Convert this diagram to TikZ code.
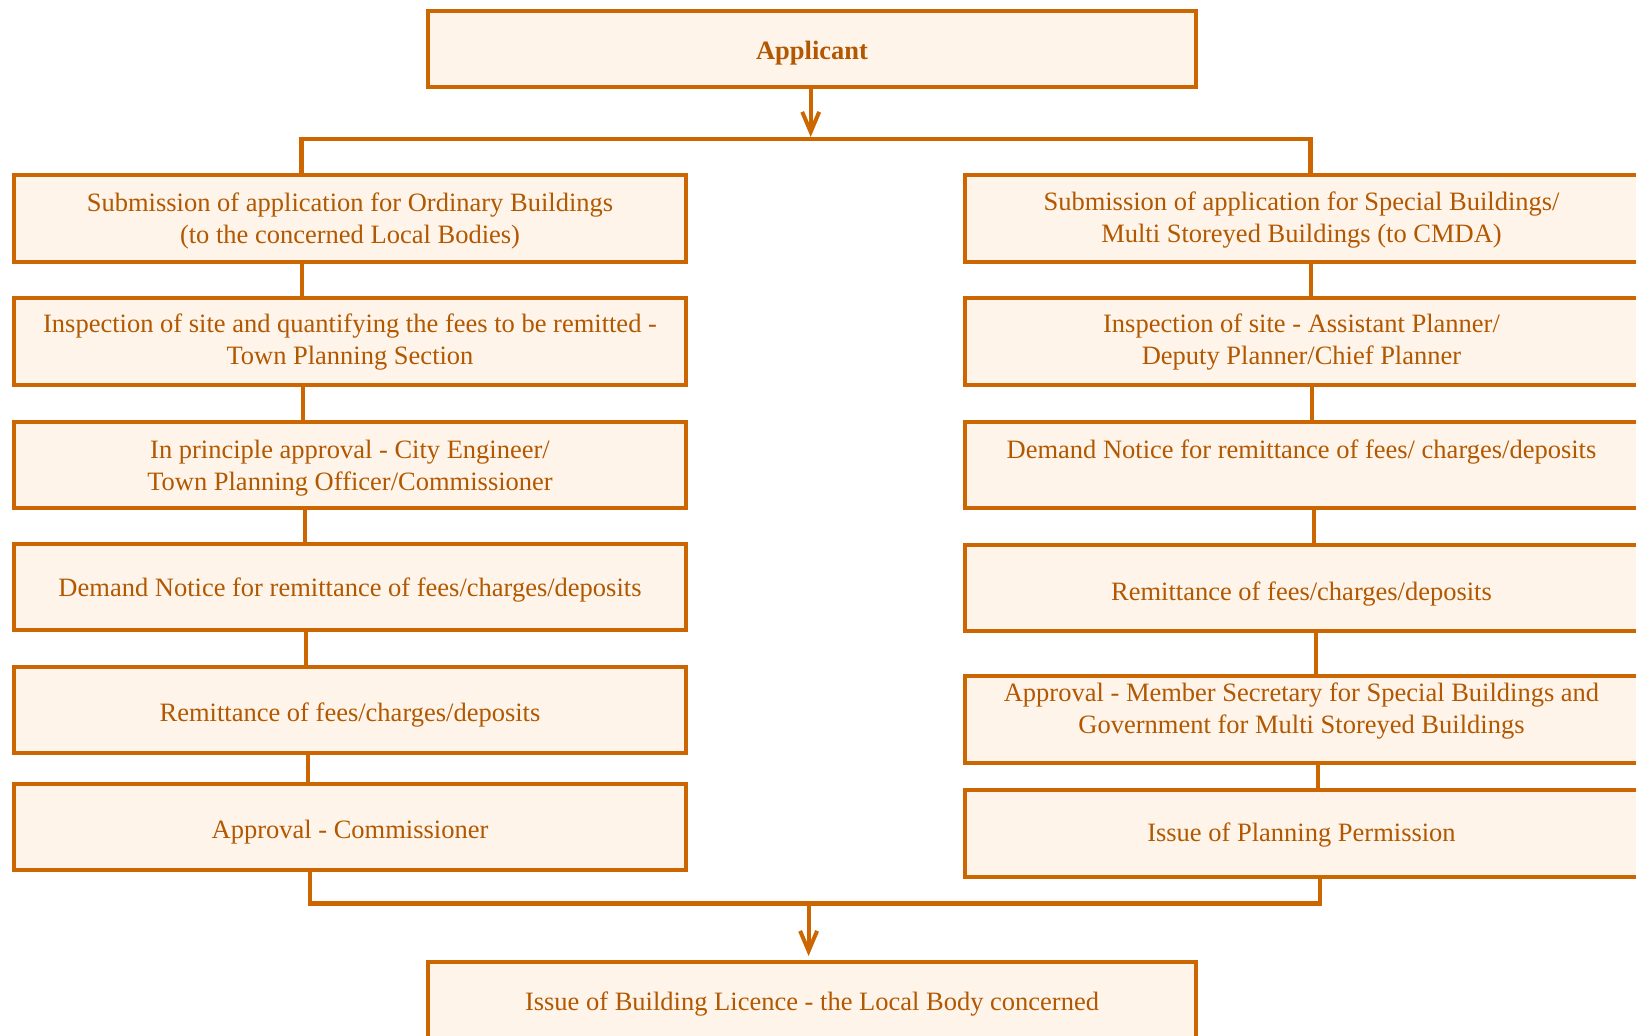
\documentclass[tikz,border=0pt]{standalone}
\usepackage{fontspec}
\setmainfont{Liberation Serif}
\usetikzlibrary{arrows.meta}
\definecolor{linec}{RGB}{204,102,0}
\definecolor{fillc}{RGB}{255,244,234}
\definecolor{txtc}{RGB}{178,88,0}
\begin{document}
\begin{tikzpicture}[x=1pt,y=-1pt,
  box/.style={draw=linec, fill=fillc, line width=4pt, inner sep=0pt},
  lbox/.style={box, minimum width=672pt, minimum height=86.6pt},
  rbox/.style={box, minimum width=673pt, minimum height=86.6pt},
  txt/.style={text=txtc, align=center, inner sep=0pt, font=\fontsize{26.5}{32}\selectfont},
  conn/.style={draw=linec, line width=4pt, line join=miter},
  arr/.style={draw=linec, line width=4pt, -{Straight Barb[length=20pt,width=17pt]}}]
\useasboundingbox (0,0) rectangle (1636,1036);

% top
\node[box, minimum width=768pt, minimum height=76pt] (app) at (812,48.5) {};
\node[txt, font=\fontsize{26.5}{32}\selectfont\bfseries] (appt) at ([yshift=-5pt]app.center) {Applicant};

% left column
\node[lbox] (l1) at (350,218.6) {};
\node[txt] (l1t) at ([yshift=-2.4pt]l1.center) {Submission of application for Ordinary Buildings\\(to the concerned Local Bodies)};
\node[lbox] (l2) at (350,341.7) {};
\node[txt] (l2t) at ([yshift=-0.8pt]l2.center) {Inspection of site and quantifying the fees to be remitted -\\Town Planning Section};
\node[lbox] (l3) at (350,464.8) {};
\node[txt] (l3t) at ([yshift=-3.4pt]l3.center) {In principle approval - City Engineer/\\Town Planning Officer/Commissioner};
\node[lbox] (l4) at (350,586.9) {};
\node[txt] (l4t) at ([yshift=-3.1pt]l4.center) {Demand Notice for remittance of fees/charges/deposits};
\node[lbox] (l5) at (350,710) {};
\node[txt] (l5t) at ([yshift=-5pt]l5.center) {Remittance of fees/charges/deposits};
\node[lbox] (l6) at (350,826.9) {};
\node[txt] (l6t) at ([yshift=-5pt]l6.center) {Approval - Commissioner};

% right column
\node[rbox] (r1) at (1301.5,218.6) {};
\node[txt] (r1t) at ([yshift=-1.5pt]r1.center) {Submission of application for Special Buildings/\\Multi Storeyed Buildings (to CMDA)};
\node[rbox] (r2) at (1301.5,341.7) {};
\node[txt] (r2t) at ([yshift=-0.6pt]r2.center) {Inspection of site - Assistant Planner/\\Deputy Planner/Chief Planner};
\node[rbox] (r3) at (1301.5,464.8) {};
\node[txt] (r3t) at ([yshift=13pt]r3.center) {Demand Notice for remittance of fees/ charges/deposits};
\node[rbox] (r4) at (1301.5,588) {};
\node[txt] (r4t) at ([yshift=-5.6pt]r4.center) {Remittance of fees/charges/deposits};
\node[rbox] (r5) at (1301.5,719.4) {};
\node[txt] (r5t) at ([yshift=8pt]r5.center) {Approval - Member Secretary for Special Buildings and\\Government for Multi Storeyed Buildings};
\node[rbox] (r6) at (1301.5,833.2) {};
\node[txt] (r6t) at ([yshift=-2pt]r6.center) {Issue of Planning Permission};

% bottom
\node[box, minimum width=768pt, minimum height=86.6pt] (fin) at (812,1005.3) {};
\node[txt] (fint) at ([yshift=1.6pt]fin.center) {Issue of Building Licence - the Local Body concerned};

% top connectors
\coordinate (tl) at (301.5,138.8);
\coordinate (tr) at (1310.5,138.8);
\coordinate (tj) at (810.7,137);
\draw[arr] ([xshift=-1.3pt]app.south) -- (tj);
\draw[conn, line width=4.5pt] ([xshift=-48.5pt]l1.north) -- (tl) -- (tr) -- ([xshift=9pt]r1.north);

% left chain
\draw[conn] ([xshift=-48.5pt]l1.south) -- ([xshift=-48.5pt]l2.north);
\draw[conn] ([xshift=-47.4pt]l2.south) -- ([xshift=-47.4pt]l3.north);
\draw[conn] ([xshift=-45.3pt]l3.south) -- ([xshift=-45.3pt]l4.north);
\draw[conn] ([xshift=-44.2pt]l4.south) -- ([xshift=-44.2pt]l5.north);
\draw[conn] ([xshift=-42.2pt]l5.south) -- ([xshift=-42.2pt]l6.north);

% right chain
\draw[conn] ([xshift=9pt]r1.south) -- ([xshift=9pt]r2.north);
\draw[conn] ([xshift=10pt]r2.south) -- ([xshift=10pt]r3.north);
\draw[conn] ([xshift=12.1pt]r3.south) -- ([xshift=12.1pt]r4.north);
\draw[conn] ([xshift=14.2pt]r4.south) -- ([xshift=14.2pt]r5.north);
\draw[conn] ([xshift=16.3pt]r5.south) -- ([xshift=16.3pt]r6.north);

% bottom connectors
\coordinate (bl) at (309.9,903.6);
\coordinate (br) at (1320,903.6);
\coordinate (bj) at (808.6,903.6);
\draw[conn, line width=4.5pt] ([xshift=-40.1pt]l6.south) -- (bl) -- (br) -- ([xshift=18.5pt]r6.south);
\draw[arr, shorten >=4pt] (bj) -- ([xshift=-3.4pt]fin.north);
\end{tikzpicture}
\end{document}
